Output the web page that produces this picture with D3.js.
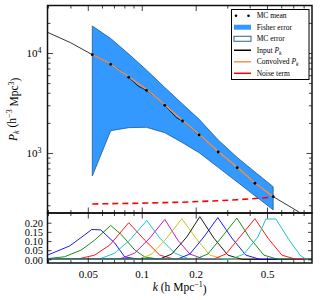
<!DOCTYPE html>
<html>
<head>
<meta charset="utf-8">
<script src="https://cdn.jsdelivr.net/npm/d3@7"></script>
<style>
  body { margin: 0; background: #fff; }
  svg { display: block; font-family: "Liberation Serif", "DejaVu Serif", serif; }
</style>
</head>
<body>
<svg id="chart" width="320" height="300"></svg>
<script>
// k bins of the measured band powers
const kBins = [0.053, 0.0671, 0.0846, 0.1062, 0.1344, 0.1688, 0.209, 0.267, 0.341, 0.428, 0.541];
const mcMean = [9616, 7709, 5715, 4236, 2999, 2089, 1514, 1023, 713, 498, 366];
const convolvedPk = [9650, 7760, 5780, 4330, 3030, 2110, 1530, 1030, 718, 500, 366];
const fisherUpper = [18621, 13964, 9772, 6761, 4519, 3090, 2173, 1349, 902, 646, 460];
const fisherLower = [589, 1671, 1791, 1807, 1596, 1268, 1007, 718, 513, 374, 270];
const noiseTerm = [309, 311, 313, 316, 319, 322, 327, 333, 341, 350, 362];

// input power spectrum (with BAO wiggles)
const kInput = [0.0298, 0.04, 0.053, 0.0598, 0.0671, 0.0754, 0.0846, 0.0953, 0.1062, 0.1182, 0.1344,
  0.1563, 0.1688, 0.1877, 0.209, 0.267, 0.341, 0.428, 0.541, 0.6295, 0.747, 0.891];
const inputPk = [16100, 12700, 9616, 8610, 7709, 6792, 5715, 4677, 4236, 3673, 2999,
  2249, 2089, 1778, 1514, 1023, 713, 498, 366, 311, 259, 214];

// window functions, one per bin: [k, W]
const windowCurves = [
  [[0.0298, 0.023], [0.0396, 0.073], [0.048, 0.133], [0.0526, 0.163], [0.059, 0.161], [0.0707, 0.089], [0.0804, 0.013], [0.0975, 0], [0.891, 0]],
  [[0.0298, 0.004], [0.0371, 0.014], [0.046, 0.051], [0.0546, 0.105], [0.0671, 0.185], [0.0773, 0.133], [0.0914, 0.051], [0.1039, 0.013], [0.1261, 0], [0.891, 0]],
  [[0.0298, 0], [0.045, 0.004], [0.0546, 0.023], [0.0663, 0.078], [0.0846, 0.2], [0.1039, 0.105], [0.1261, 0.023], [0.1529, 0], [0.891, 0]],
  [[0.0298, 0], [0.0583, 0.002], [0.0707, 0.034], [0.0857, 0.105], [0.1067, 0.212], [0.1261, 0.116], [0.1529, 0.034], [0.1855, 0], [0.891, 0]],
  [[0.0298, 0], [0.0754, 0.002], [0.0914, 0.034], [0.1108, 0.116], [0.1345, 0.218], [0.1589, 0.105], [0.1855, 0.029], [0.2249, 0], [0.891, 0]],
  [[0.0298, 0], [0.0975, 0.002], [0.1137, 0.029], [0.138, 0.116], [0.1673, 0.222], [0.2003, 0.116], [0.2399, 0.023], [0.2909, 0], [0.891, 0]],
  [[0.0298, 0], [0.1261, 0.002], [0.1471, 0.029], [0.1784, 0.122], [0.2109, 0.233], [0.2525, 0.116], [0.3023, 0.023], [0.362, 0], [0.891, 0]],
  [[0.0298, 0], [0.1589, 0.002], [0.1855, 0.029], [0.222, 0.122], [0.2658, 0.228], [0.3183, 0.116], [0.3811, 0.023], [0.4563, 0], [0.891, 0]],
  [[0.0298, 0], [0.2003, 0.002], [0.2338, 0.029], [0.2799, 0.122], [0.3394, 0.225], [0.4012, 0.116], [0.4804, 0.023], [0.5752, 0], [0.891, 0]],
  [[0.0298, 0], [0.2525, 0.002], [0.2947, 0.029], [0.3528, 0.122], [0.4279, 0.222], [0.5057, 0.116], [0.6053, 0.023], [0.7248, 0], [0.891, 0]],
  [[0.0298, 0], [0.3183, 0.002], [0.3714, 0.029], [0.4446, 0.122], [0.4928, 0.22], [0.5606, 0.22], [0.654, 0.116], [0.7633, 0.023], [0.82, 0.002], [0.891, 0]]
];
const windowColors = ["#0000ff", "#008000", "#ff0000", "#00bfbf", "#bf00bf", "#bfbf00", "#000000",
  "#0000ff", "#008000", "#ff0000", "#00bfbf"];

// ticks
const xMajorTicks = [0.05, 0.1, 0.2, 0.5];
const xMinorTicks = [0.03, 0.04, 0.06, 0.07, 0.08, 0.09, 0.3, 0.4, 0.6, 0.7, 0.8];
const yMajorTicks = [1e3, 1e4];
const yMinorTicks = [300, 400, 500, 600, 700, 800, 900, 2000, 3000, 4000, 5000, 6000, 7000, 8000, 9000, 20000];
const wTicks = [0, 0.05, 0.1, 0.15, 0.2];

const pLeft = 47.5, pRight = 312, pTop = 5.5, pMid = 213, pBottom = 263;

const svg = d3.select("#chart");

const x = d3.scaleLog().domain([0.0298, 0.891]).range([pLeft, pRight]);
const yP = d3.scaleLog().domain([251, 29850]).range([pMid, pTop]);
const yW = d3.scaleLinear().domain([-0.02, 0.253]).range([pBottom, pMid]);

const defs = svg.append("defs");
defs.append("clipPath").attr("id", "clip-main")
  .append("rect").attr("x", pLeft).attr("y", pTop).attr("width", pRight - pLeft).attr("height", pMid - pTop);
defs.append("clipPath").attr("id", "clip-low")
  .append("rect").attr("x", pLeft).attr("y", pMid).attr("width", pRight - pLeft).attr("height", pBottom - pMid);

const main = svg.append("g").attr("clip-path", "url(#clip-main)");

// Fisher band + MC error outline
const band = d3.area()
  .x((d, i) => x(kBins[i]))
  .y0((d, i) => yP(fisherLower[i]))
  .y1((d, i) => yP(fisherUpper[i]));

main.append("path").datum(kBins).attr("d", band).attr("fill", "#3399ff");
main.append("path").datum(kBins).attr("d", band)
  .attr("fill", "none").attr("stroke", "#1d5a96").attr("stroke-width", 0.8);

const pkLine = d3.line().x((d) => x(d[0])).y((d) => yP(d[1]));

main.append("path").datum(d3.zip(kInput, inputPk)).attr("d", pkLine)
  .attr("fill", "none").attr("stroke", "#000").attr("stroke-width", 0.8);

main.append("path").datum(d3.zip(kBins, convolvedPk)).attr("d", pkLine)
  .attr("fill", "none").attr("stroke", "#f5924e").attr("stroke-width", 1.4);

main.append("path").datum(d3.zip(kBins, noiseTerm)).attr("d", pkLine)
  .attr("fill", "none").attr("stroke", "#ff0000").attr("stroke-width", 1.6)
  .attr("stroke-dasharray", "6,4");

main.selectAll("circle.mc").data(d3.zip(kBins, mcMean)).join("circle")
  .attr("class", "mc")
  .attr("cx", (d) => x(d[0])).attr("cy", (d) => yP(d[1])).attr("r", 1.4).attr("fill", "#000");

// window functions
const low = svg.append("g").attr("clip-path", "url(#clip-low)");
const wLine = d3.line().x((d) => x(d[0])).y((d) => yW(d[1]));
windowCurves.forEach((c, i) => {
  low.append("path").datum(c).attr("d", wLine)
    .attr("fill", "none").attr("stroke", windowColors[i]).attr("stroke-width", 0.9);
});

// axes
function styleAxis(g) {
  g.select(".domain").remove();
  g.selectAll(".tick line").attr("stroke", "#111").attr("stroke-width", 0.8);
  g.selectAll(".tick text").attr("fill", "#000").attr("font-family", "Liberation Serif, serif").attr("font-size", 11);
}
function addAxis(axis, tx, ty) {
  return svg.append("g").attr("transform", `translate(${tx},${ty})`).call(axis).call(styleAxis);
}

// x ticks on all panel edges
[[d3.axisTop, pTop], [d3.axisBottom, pMid], [d3.axisTop, pMid], [d3.axisBottom, pBottom]].forEach(([ax, yy]) => {
  addAxis(ax(x).tickValues(xMajorTicks).tickSize(-5.5).tickFormat(""), 0, yy);
  addAxis(ax(x).tickValues(xMinorTicks).tickSize(-3).tickFormat(""), 0, yy);
});
// x labels
svg.append("g").attr("transform", `translate(0,${pBottom})`)
  .call(d3.axisBottom(x).tickValues(xMajorTicks).tickSize(0).tickPadding(7.5).tickFormat(d3.format("")))
  .call(styleAxis);

// main y ticks
addAxis(d3.axisLeft(yP).tickValues(yMinorTicks).tickSize(-3).tickFormat(""), pLeft, 0);
addAxis(d3.axisRight(yP).tickValues(yMinorTicks).tickSize(-3).tickFormat(""), pRight, 0);
addAxis(d3.axisRight(yP).tickValues(yMajorTicks).tickSize(-5.5).tickFormat(""), pRight, 0);
const yAx = svg.append("g").attr("transform", `translate(${pLeft},0)`)
  .call(d3.axisLeft(yP).tickValues(yMajorTicks).tickSize(-5.5).tickPadding(6).tickFormat(() => ""))
  .call(styleAxis);
yAx.selectAll(".tick text").each(function (d) {
  const t = d3.select(this);
  t.append("tspan").text("10");
  t.append("tspan").attr("dy", "-0.45em").attr("font-size", 8).text(Math.round(Math.log10(d)));
});

// lower y ticks (tight spacing, as in the original)
addAxis(d3.axisLeft(yW).tickValues(wTicks).tickSize(-4).tickPadding(4.5).tickFormat(d3.format(".2f")), pLeft, 0)
  .selectAll(".tick text").attr("font-size", 10.5).attr("dy", "0.36em");
addAxis(d3.axisRight(yW).tickValues(wTicks).tickSize(-4).tickFormat(""), pRight, 0);

// frames
svg.append("rect").attr("x", pLeft).attr("y", pTop).attr("width", pRight - pLeft).attr("height", pMid - pTop)
  .attr("fill", "none").attr("stroke", "#111").attr("stroke-width", 1.5);
svg.append("rect").attr("x", pLeft).attr("y", pMid).attr("width", pRight - pLeft).attr("height", pBottom - pMid)
  .attr("fill", "none").attr("stroke", "#111").attr("stroke-width", 1.5);

// axis labels
const yLabel = svg.append("text")
  .attr("transform", `translate(17,${(pTop + pMid) / 2}) rotate(-90)`)
  .attr("text-anchor", "middle").attr("font-size", 11.5);
yLabel.append("tspan").attr("font-style", "italic").text("P");
yLabel.append("tspan").attr("font-size", 8).attr("dy", "0.3em").attr("font-style", "italic").text("k");
yLabel.append("tspan").attr("dy", "-0.3em").text(" (h");
yLabel.append("tspan").attr("font-size", 8).attr("dy", "-0.45em").text("\u22123");
yLabel.append("tspan").attr("dy", "0.45em").text(" Mpc");
yLabel.append("tspan").attr("font-size", 8).attr("dy", "-0.45em").text("3");
yLabel.append("tspan").attr("dy", "0.45em").text(")");

const xLabel = svg.append("text")
  .attr("x", (pLeft + pRight) / 2).attr("y", 291)
  .attr("text-anchor", "middle").attr("font-size", 11.5);
xLabel.append("tspan").attr("font-style", "italic").text("k");
xLabel.append("tspan").text(" (h Mpc");
xLabel.append("tspan").attr("font-size", 8).attr("dy", "-0.45em").text("\u22121");
xLabel.append("tspan").attr("dy", "0.45em").text(")");

// legend
const legendItems = ["MC mean", "Fisher error", "MC error", "Input", "Convolved", "Noise term"];
const lg = svg.append("g");
lg.append("rect").attr("x", 231.5).attr("y", 9.5).attr("width", 77.5).attr("height", 70)
  .attr("fill", "#fff").attr("stroke", "#000").attr("stroke-width", 1);
const rowY = d3.scalePoint().domain(legendItems).range([15.7, 73.3]);
legendItems.forEach((name) => {
  const yy = rowY(name);
  if (name === "MC mean") {
    lg.append("circle").attr("cx", 236).attr("cy", yy).attr("r", 1.3).attr("fill", "#000");
    lg.append("circle").attr("cx", 248.5).attr("cy", yy).attr("r", 1.3).attr("fill", "#000");
  } else if (name === "Fisher error") {
    lg.append("rect").attr("x", 234).attr("y", yy - 2.5).attr("width", 17).attr("height", 5).attr("fill", "#3399ff");
  } else if (name === "MC error") {
    lg.append("rect").attr("x", 234).attr("y", yy - 2.5).attr("width", 17).attr("height", 5)
      .attr("fill", "#fff").attr("stroke", "#1d4d80").attr("stroke-width", 0.9);
  } else {
    const col = name === "Input" ? "#000" : name === "Convolved" ? "#f5924e" : "#ff0000";
    lg.append("line").attr("x1", 234).attr("x2", 251).attr("y1", yy).attr("y2", yy)
      .attr("stroke", col).attr("stroke-width", 1.5);
  }
  const t = lg.append("text").attr("x", 256.7).attr("y", yy).attr("dy", "0.35em").attr("font-size", 7.5);
  if (name === "Input" || name === "Convolved") {
    t.append("tspan").text(name + " ");
    t.append("tspan").attr("font-style", "italic").text("P");
    t.append("tspan").attr("font-style", "italic").attr("font-size", 5.5).attr("dy", "0.3em").text("k");
  } else {
    t.text(name);
  }
});
</script>
</body>
</html>
